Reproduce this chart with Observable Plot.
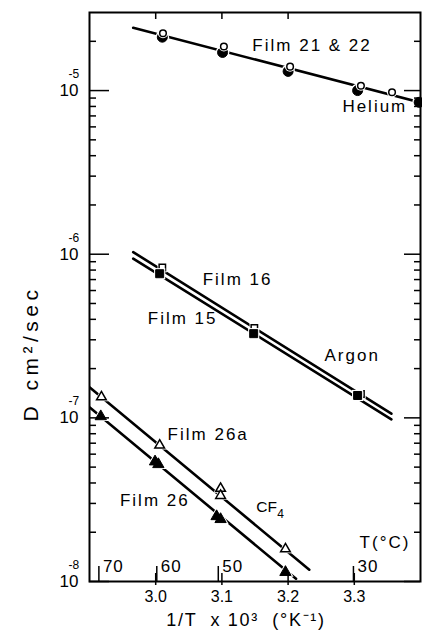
<!DOCTYPE html>
<html><head><meta charset="utf-8">
<script src="https://cdn.jsdelivr.net/npm/d3@7"></script>
<script src="https://cdn.jsdelivr.net/npm/@observablehq/plot@0.6"></script>
<style>
html,body{margin:0;padding:0;background:#fff;}
</style></head><body><div id="chart"></div>
<script>
// ---- Helium (Film 21 open, Film 22 filled) ----
const heliumFilm21X = [3.011, 3.103, 3.203, 3.310, 3.357];
const heliumFilm21D = [2.24e-5, 1.86e-5, 1.40e-5, 1.07e-5, 9.76e-6];
const heliumFilm22X = [3.010, 3.101, 3.200, 3.305, 3.398];
const heliumFilm22D = [2.12e-5, 1.71e-5, 1.31e-5, 1.00e-5, 8.48e-6];
const heliumLineX = [2.966, 3.40];
const heliumLineD = [2.42e-5, 8.45e-6];
// ---- Argon (Film 16 open, Film 15 filled) ----
const argonFilm16X = [3.010, 3.149, 3.310];
const argonFilm16D = [8.3e-7, 3.55e-7, 1.40e-7];
const argonFilm15X = [3.006, 3.148, 3.305];
const argonFilm15D = [7.6e-7, 3.27e-7, 1.37e-7];
const argonLine16X = [2.966, 3.356];
const argonLine16D = [1.03e-6, 1.06e-7];
const argonLine15X = [2.966, 3.356];
const argonLine15D = [9.4e-7, 9.8e-8];
// ---- CF4 (Film 26a open, Film 26 filled) ----
const cf4Film26aX = [2.918, 3.006, 3.098, 3.098, 3.196];
const cf4Film26aD = [1.34e-7, 6.8e-8, 3.7e-8, 3.35e-8, 1.58e-8];
const cf4Film26X = [2.917, 2.999, 3.004, 3.092, 3.098, 3.196];
const cf4Film26D = [1.02e-7, 5.4e-8, 5.2e-8, 2.5e-8, 2.4e-8, 1.14e-8];
const cf4Line26aX = [2.90, 3.232];
const cf4Line26aD = [1.54e-7, 1.18e-8];
const cf4Line26X = [2.90, 3.212];
const cf4Line26D = [1.16e-7, 1.04e-8];
// ---- axes ----
const xTicks = [3.0, 3.1, 3.2, 3.3];
const xTopTicks = [3.0, 3.1, 3.2];
const decades = [1e-8, 1e-7, 1e-6, 1e-5];
const decadeExp = ["-8", "-7", "-6", "-5"];
const tempC = [70, 60, 50, 30];
// ---- annotations ----
const labelText = ["Film 21 & 22", "Helium", "Film 16", "Film 15", "Argon", "Film 26a", "Film 26", "T(°C)"];
const labelX = [3.146, 3.282, 3.071, 2.988, 3.255, 3.018, 2.946, 3.308];
const labelD = [1.88e-5, 7.98e-6, 7.0e-7, 4.05e-7, 2.40e-7, 7.93e-8, 3.13e-8, 1.73e-8];
const cfText = ["CF"];
const cfX = [3.152];
const cfD = [2.84e-8];
const subText = ["4"];
const subX = [3.1835];
const subD = [2.58e-8];
const yTitleVar = "D";
const yTitleUnit = "cm\u00B2/sec";
const xTitle = "1/T  x 10\u00B3  (°K\u207B\u00B9)";

const W = 422, H = 634, mt = 12, mb = 53, ml = 89, mr = 2;
const fw = W - ml - mr, fh = H - mt - mb;
const minor = [];
for (const d of decades) for (let k = 2; k <= 9; k++) { const v = d * k; if (v < 2.99e-5) minor.push(v); }
const rows = (xs, ds) => xs.map((x, i) => ({x, D: ds[i]}));
const tempX = tempC.map(t => 1000 / (t + 273.15));

const lineOpts = {x: "x", y: "D", stroke: "#000", strokeWidth: 2.6, clip: true};
function filled(data, symbol, r) {
  return [
    Plot.dot(data, {x: "x", y: "D", symbol, r: r + 1.8, fill: "#fff", stroke: "none"}),
    Plot.dot(data, {x: "x", y: "D", symbol, r, fill: "#000", stroke: "#000", strokeWidth: 1})
  ];
}
function open(data, symbol, r) {
  return [
    Plot.dot(data, {x: "x", y: "D", symbol, r: r + 1.8, fill: "#fff", stroke: "none"}),
    Plot.dot(data, {x: "x", y: "D", symbol, r, fill: "#fff", stroke: "#000", strokeWidth: 1.5})
  ];
}

const chart = Plot.plot({
  width: W, height: H,
  marginTop: mt, marginBottom: mb, marginLeft: ml, marginRight: mr,
  style: {fontFamily: "'Liberation Sans', Arial, sans-serif", background: "#fff", color: "#000"},
  x: {domain: [2.9, 3.4]},
  y: {type: "log", domain: [1e-8, 3e-5], axis: null},
  marks: [
    // lines
    Plot.line(rows(heliumLineX, heliumLineD), lineOpts),
    Plot.line(rows(argonLine16X, argonLine16D), lineOpts),
    Plot.line(rows(argonLine15X, argonLine15D), lineOpts),
    Plot.line(rows(cf4Line26aX, cf4Line26aD), lineOpts),
    Plot.line(rows(cf4Line26X, cf4Line26D), lineOpts),
    // markers
    ...filled(rows(heliumFilm22X, heliumFilm22D), "circle", 5),
    ...open(rows(heliumFilm21X, heliumFilm21D), "circle", 3.3),
    ...open(rows(argonFilm16X, argonFilm16D), "square", 3.6),
    ...filled(rows(argonFilm15X, argonFilm15D), "square", 4.5),
    ...open(rows(cf4Film26aX, cf4Film26aD), "triangle", 3.6),
    ...filled(rows(cf4Film26X, cf4Film26D), "triangle", 4.2),
    // frame & ticks
    Plot.frame({stroke: "#000", strokeWidth: 2}),
    Plot.tickY(minor, {y: d => d, insetRight: fw - 7, strokeWidth: 1.5}),
    Plot.tickY(decades, {y: d => d, insetRight: fw - 20, strokeWidth: 1.5}),
    Plot.tickY(minor, {y: d => d, insetLeft: fw - 6, strokeWidth: 1.5}),
    Plot.tickY(decades, {y: d => d, insetLeft: fw - 16, strokeWidth: 1.5}),
    Plot.tickX(xTicks, {x: d => d, insetTop: fh - 8, insetBottom: -4, strokeWidth: 1.5}),
    Plot.tickX(xTopTicks, {x: d => d, insetBottom: fh - 7, strokeWidth: 1.5}),
    Plot.tickX(tempX, {x: d => d, insetTop: fh - 15, strokeWidth: 1.5}),
    Plot.axisX({ticks: xTicks, tickSize: 0, tickPadding: 9, tickFormat: d3.format(".1f"), fontSize: 16, label: null}),
    // y tick labels
    Plot.text(decades, {y: d => d, text: () => "10", frameAnchor: "left", textAnchor: "end", lineAnchor: "middle", dx: -11, fontSize: 17}),
    Plot.text(decades, {y: d => d, text: (d, i) => decadeExp[i], frameAnchor: "left", textAnchor: "start", lineAnchor: "middle", dx: -21, dy: -16.5, fontSize: 12}),
    // temperature labels
    Plot.text(tempC, {x: (t, i) => tempX[i], text: t => String(t), frameAnchor: "bottom", textAnchor: "start", lineAnchor: "middle", dx: 4, dy: -15, fontSize: 17}),
    // annotations
    Plot.text(labelText, {x: (d, i) => labelX[i], y: (d, i) => labelD[i], text: d => d, textAnchor: "start", lineAnchor: "middle", fontSize: 17}),
    Plot.text(cfText, {x: (d, i) => cfX[i], y: (d, i) => cfD[i], text: d => d, textAnchor: "start", lineAnchor: "middle", fontSize: 15.5}),
    Plot.text(subText, {x: (d, i) => subX[i], y: (d, i) => subD[i], text: d => d, textAnchor: "start", lineAnchor: "middle", fontSize: 12}),
    // titles
    Plot.text([yTitleVar], {frameAnchor: "left", text: d => d, textAnchor: "middle", lineAnchor: "middle", dx: -58, dy: 117, rotate: -90, fontSize: 21}),
    Plot.text([yTitleUnit], {frameAnchor: "left", text: d => d, textAnchor: "middle", lineAnchor: "middle", dx: -58, dy: 41, rotate: -90, fontSize: 21}),
    Plot.text([xTitle], {frameAnchor: "bottom", text: d => d, textAnchor: "middle", lineAnchor: "middle", dx: -9, dy: 39, fontSize: 18})
  ]
});
// letter spacing (style only)
const spacing = new Map([
  ...labelText.map(t => [t, "2px"]),
  [yTitleUnit, "4.5px"],
  [xTitle, "1.7px"],
  ...tempC.map(t => [String(t), "1px"])
]);
chart.querySelectorAll("text").forEach(el => {
  const s = spacing.get(el.textContent);
  if (s) el.style.letterSpacing = s;
});
document.getElementById("chart").appendChild(chart);
</script></body></html>
